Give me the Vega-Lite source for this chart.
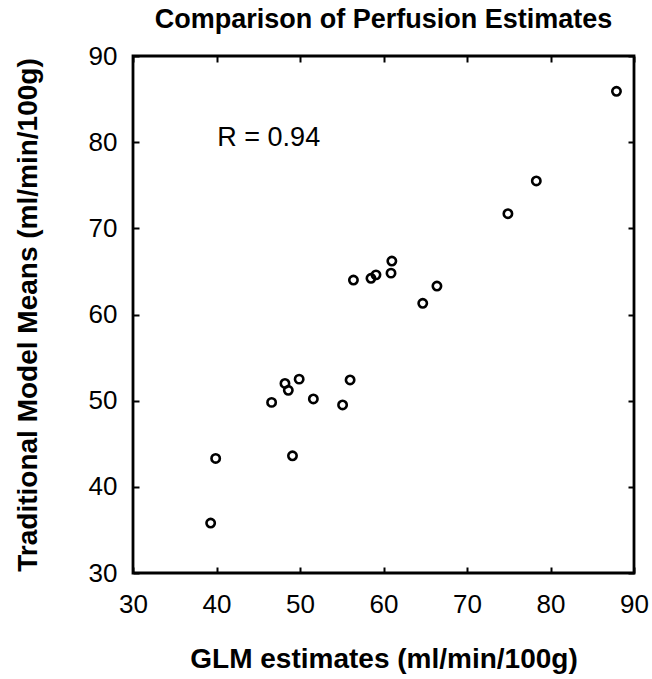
{
  "$schema": "https://vega.github.io/schema/vega-lite/v6.json",
  "width": 501,
  "height": 517,
  "autosize": "none",
  "padding": {"left": 133, "top": 56, "right": 18, "bottom": 106},
  "background": "white",
  "title": {
    "text": "Comparison of Perfusion Estimates",
    "font": "Liberation Sans",
    "fontSize": 27,
    "fontWeight": "bold",
    "color": "black",
    "anchor": "middle",
    "offset": 9
  },
  "config": {
    "view": {"stroke": "black", "strokeWidth": 2.8},
    "axis": {
      "domain": false,
      "grid": false,
      "ticks": true,
      "tickSize": -6,
      "tickWidth": 2,
      "tickColor": "black",
      "labelFont": "Liberation Sans",
      "labelFontSize": 26,
      "labelColor": "black",
      "titleFont": "Liberation Sans",
      "titleFontSize": 28,
      "titleFontWeight": "bold",
      "titleColor": "black"
    }
  },
  "resolve": {"axis": {"x": "independent", "y": "independent"}},
  "layer": [
    {
      "data": {
        "values": [
          {"glm": 87.9, "trad": 85.9},
          {"glm": 78.3, "trad": 75.5},
          {"glm": 74.9, "trad": 71.7},
          {"glm": 61.0, "trad": 66.2},
          {"glm": 56.4, "trad": 64.0},
          {"glm": 58.5, "trad": 64.2},
          {"glm": 59.1, "trad": 64.6},
          {"glm": 60.9, "trad": 64.8},
          {"glm": 66.4, "trad": 63.3},
          {"glm": 64.7, "trad": 61.3},
          {"glm": 48.2, "trad": 52.0},
          {"glm": 48.6, "trad": 51.2},
          {"glm": 49.9, "trad": 52.5},
          {"glm": 56.0, "trad": 52.4},
          {"glm": 46.6, "trad": 49.8},
          {"glm": 51.6, "trad": 50.2},
          {"glm": 55.1, "trad": 49.5},
          {"glm": 39.9, "trad": 43.3},
          {"glm": 49.1, "trad": 43.6},
          {"glm": 39.3, "trad": 35.8}
        ]
      },
      "mark": {"type": "point", "shape": "circle", "filled": false, "stroke": "black", "strokeWidth": 2.6, "size": 70, "opacity": 1},
      "encoding": {
        "x": {
          "field": "glm", "type": "quantitative",
          "scale": {"domain": [30, 90], "nice": false, "zero": false},
          "axis": {"orient": "bottom", "values": [30, 40, 50, 60, 70, 80, 90], "title": "GLM estimates (ml/min/100g)", "labelPadding": 24, "titlePadding": 28, "labelFlush": false}
        },
        "y": {
          "field": "trad", "type": "quantitative",
          "scale": {"domain": [30, 90], "nice": false, "zero": false},
          "axis": {"orient": "left", "values": [30, 40, 50, 60, 70, 80, 90], "title": "Traditional Model Means (ml/min/100g)", "labelPadding": 22, "titlePadding": 46, "labelFlush": false}
        }
      }
    },
    {
      "data": {"values": [{"glm": 40.1, "trad": 80.5, "label": "R = 0.94"}]},
      "mark": {"type": "text", "align": "left", "baseline": "middle", "font": "Liberation Sans", "fontSize": 27, "color": "black"},
      "encoding": {
        "x": {
          "field": "glm", "type": "quantitative",
          "scale": {"domain": [30, 90], "nice": false, "zero": false},
          "axis": {"orient": "top", "values": [30, 40, 50, 60, 70, 80, 90], "labels": false, "title": null}
        },
        "y": {
          "field": "trad", "type": "quantitative",
          "scale": {"domain": [30, 90], "nice": false, "zero": false},
          "axis": {"orient": "right", "values": [30, 40, 50, 60, 70, 80, 90], "labels": false, "title": null}
        },
        "text": {"field": "label"}
      }
    }
  ]
}
